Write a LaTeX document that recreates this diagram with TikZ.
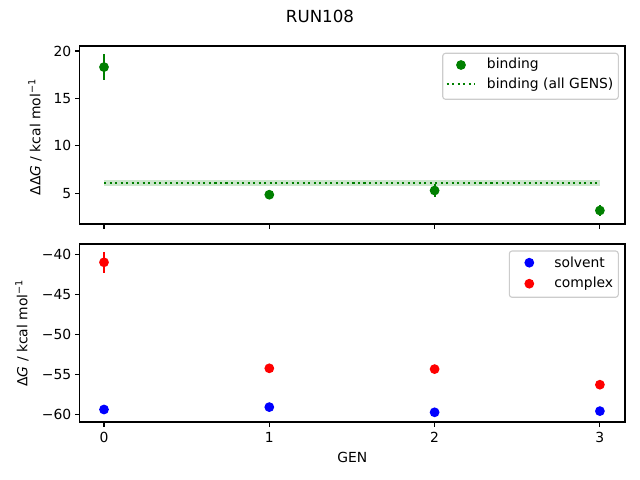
\documentclass[tikz,border=0pt]{standalone}
\usepackage{fontspec}
\setmainfont{DejaVu Sans}
\begin{document}
\begin{tikzpicture}[x=0.72pt,y=-0.72pt,
  axisline/.style={line width=0.8pt,black},
  tickmark/.style={line width=0.8pt,black},
  ticklab/.style={font=\fontsize{10}{12}\selectfont,inner sep=0pt},
  errbar/.style={line width=1.5pt},
  mk/.style={fill=#1,draw=none},
  legbox/.style={draw=black!20,fill=white,fill opacity=0.8,rounded corners=2pt,line width=0.8pt},
  legtext/.style={font=\fontsize{10}{12}\selectfont,anchor=west,inner sep=0pt}]
\definecolor{mgreen}{HTML}{008000}
\definecolor{mred}{HTML}{FF0000}
\definecolor{mblue}{HTML}{0000FF}
\definecolor{band}{HTML}{CCE6CC}
\useasboundingbox[fill=white] (0,0) rectangle (640,480);
\def\mr{4.9}
% title
\node[font=\fontsize{12}{14}\selectfont] (title) at (320,16.5) {RUN108};
% ===== top axes =====
% band and line
\fill[band] (104,179.9) rectangle (600,186.1);
\draw[mgreen,line width=1.5pt,dash pattern=on 1.5pt off 2.475pt] (104,183) -- (600,183);
% error bars
\draw[errbar,mgreen] (104,54.4) -- (104,79.8);
\draw[errbar,mgreen] (269.3,192.8) -- (269.3,196.6);
\draw[errbar,mgreen] (434.6,183.9) -- (434.6,197.1);
\draw[errbar,mgreen] (599.9,204.8) -- (599.9,216.2);
\fill[mk=mgreen] (104,67.1) circle (\mr);
\fill[mk=mgreen] (269.3,194.7) circle (\mr);
\fill[mk=mgreen] (434.6,190.5) circle (\mr);
\fill[mk=mgreen] (599.9,210.5) circle (\mr);
\draw[axisline] (79.5,46) rectangle (625,224);
% y ticks
\foreach \v/\lab in {20/20,15/15,10/10,5/5}{
  \pgfmathsetmacro{\yy}{51+(20-\v)*9.49}
  \draw[tickmark] (79.5,\yy) -- (74.6,\yy);
  \node[ticklab,anchor=east] at (71.5,\yy) {\lab};
}
% x ticks (no labels)
\foreach \g in {0,1,2,3}{
  \pgfmathsetmacro{\xx}{104+\g*165.3}
  \draw[tickmark] (\xx,224) -- (\xx,228.9);
}
\node[ticklab,rotate=90] (ylabtop) at (35,137) {ΔΔ\textit{G} / kcal mol\textsuperscript{−1}};
% legend top
\draw[legbox] (442.7,53.3) rectangle (618.3,99.3);
\fill[mk=mgreen] (461,65) circle (\mr);
\draw[mgreen,line width=1.5pt,dash pattern=on 1.5pt off 2.475pt] (446.7,84.3) -- (475,84.3);
\node[legtext] (lb1) at (486.7,65) {binding};
\node[legtext] (lb2) at (486.7,84.3) {binding (all GENS)};
% ===== bottom axes =====
\draw[errbar,mred] (104,251.9) -- (104,272.7);
\draw[errbar,mred] (269.3,366.7) -- (269.3,369.9);
\draw[errbar,mred] (434.6,366.7) -- (434.6,371.5);
\draw[errbar,mred] (599.9,381.5) -- (599.9,387.9);
\fill[mk=mblue] (104,409.5) circle (\mr);
\fill[mk=mblue] (269.3,407.1) circle (\mr);
\fill[mk=mblue] (434.6,412.3) circle (\mr);
\fill[mk=mblue] (599.9,411.1) circle (\mr);
\fill[mk=mred] (104,262.3) circle (\mr);
\fill[mk=mred] (269.3,368.3) circle (\mr);
\fill[mk=mred] (434.6,369.1) circle (\mr);
\fill[mk=mred] (599.9,384.7) circle (\mr);
\draw[axisline] (79.5,244) rectangle (625,422);
\foreach \v in {40,45,50,55,60}{
  \pgfmathsetmacro{\yy}{254.3+(\v-40)*8}
  \draw[tickmark] (79.5,\yy) -- (74.6,\yy);
  \node[ticklab,anchor=east] at (71.5,\yy) {−\v};
}
\foreach \g in {0,1,2,3}{
  \pgfmathsetmacro{\xx}{104+\g*165.3}
  \draw[tickmark] (\xx,422) -- (\xx,426.9);
  \node[ticklab,anchor=north] at (\xx,431.8) {\g};
}
\node[ticklab,rotate=90] (ylabbot) at (22,333) {Δ\textit{G} / kcal mol\textsuperscript{−1}};
\node[ticklab] (xlab) at (352.3,457) {GEN};
% legend bottom
\draw[legbox] (509.3,251) rectangle (618.3,297.3);
\fill[mk=mblue] (529.3,262.7) circle (\mr);
\fill[mk=mred] (529.3,283.7) circle (\mr);
\node[legtext] (ls1) at (554,262.7) {solvent};
\node[legtext] (ls2) at (554,283.7) {complex};
\end{tikzpicture}
\end{document}
